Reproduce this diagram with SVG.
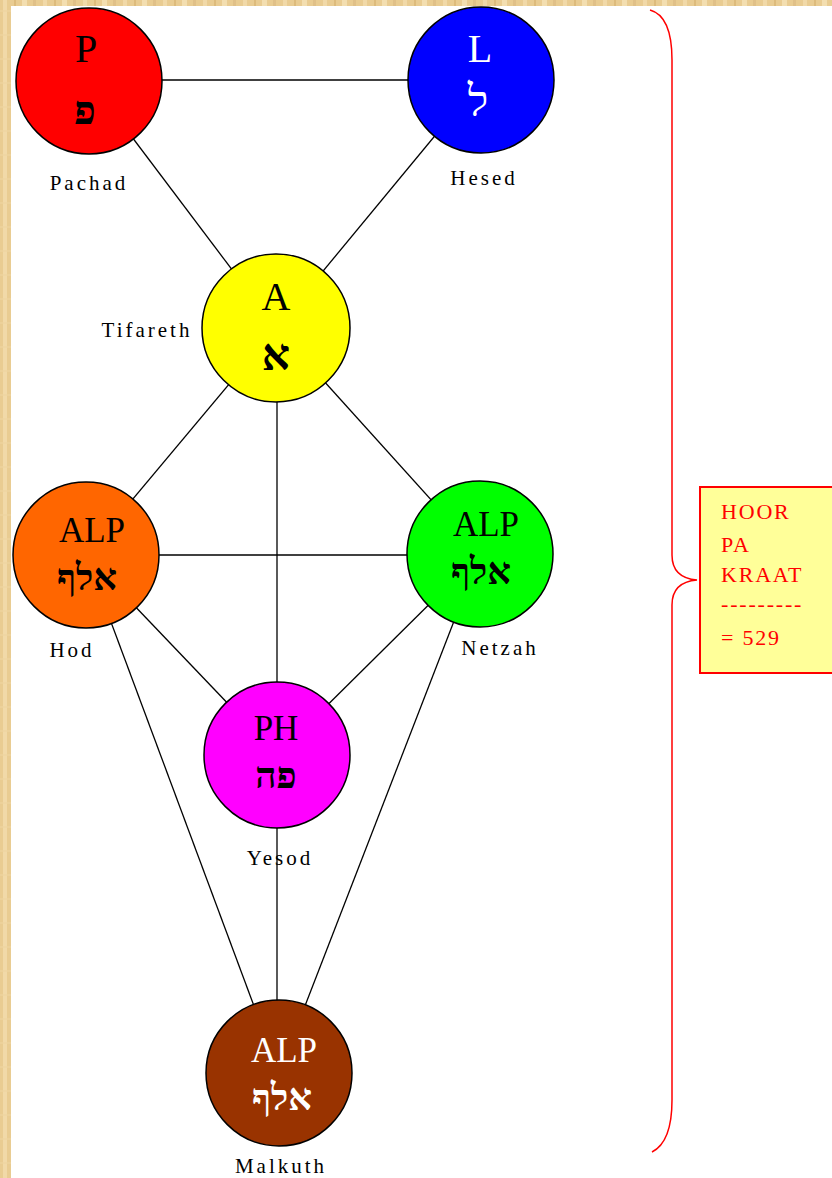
<svg xmlns="http://www.w3.org/2000/svg" width="832" height="1178" viewBox="0 0 832 1178">
<style>
.node{stroke:#000;stroke-width:1.5}
.lat{font-family:"Liberation Serif","Times New Roman",serif;text-anchor:middle}
.big{font-size:40px}
.mid{font-size:35px}
.heb{font-family:"Liberation Serif","DejaVu Serif","Noto Sans",serif;font-weight:bold;text-anchor:middle}
.lbl{font-family:"Liberation Serif","Times New Roman",serif;font-size:21px;letter-spacing:3px;fill:#000}
.conn line{stroke:#000;stroke-width:1.3}
.box{font-family:"Liberation Serif","Times New Roman",serif;font-size:22px;fill:#FF0000;letter-spacing:1.8px}
</style>
<defs>
<pattern id="parch" width="40" height="24" patternUnits="userSpaceOnUse">
<rect width="40" height="24" fill="#E9CC92"/>
<rect x="3" y="0" width="4" height="24" fill="#F1D9A8"/>
<rect x="14" y="0" width="2" height="24" fill="#DDBB7C"/>
<rect x="22" y="0" width="5" height="24" fill="#F3DEB0"/>
<rect x="33" y="0" width="3" height="24" fill="#E0C088"/>
<rect x="0" y="10" width="40" height="2" fill="#EED3A0" opacity="0.6"/>
</pattern>
</defs>
<rect x="0" y="0" width="832" height="1178" fill="url(#parch)"/>
<rect x="11" y="6" width="821" height="1172" fill="#FFFFFF"/>

<g id="connectors" class="conn">
<line x1="89" y1="80" x2="481" y2="80"/>
<line x1="89" y1="80" x2="276" y2="328"/>
<line x1="481" y1="80" x2="276" y2="328"/>
<line x1="276" y1="328" x2="86" y2="555"/>
<line x1="276" y1="328" x2="480" y2="554"/>
<line x1="277" y1="328" x2="277" y2="1073"/>
<line x1="86" y1="555" x2="480" y2="555"/>
<line x1="86" y1="555" x2="277" y2="755"/>
<line x1="480" y1="554" x2="277" y2="755"/>
<line x1="86" y1="555" x2="279" y2="1073"/>
<line x1="480" y1="554" x2="279" y2="1073"/>
</g>

<g id="pachad">
<circle class="node" cx="89" cy="81" r="73" fill="#FF0000"/>
<text class="lat big" x="86" y="62">P</text>
<text class="heb" x="85" y="124" font-size="40">פ</text>
<text class="lbl" x="89" y="190" text-anchor="middle">Pachad</text>
</g>

<g id="hesed">
<circle class="node" cx="481" cy="80" r="73" fill="#0000FF"/>
<text class="lat big" x="480" y="62" fill="#FFFFFF">L</text>
<text x="478" y="116" font-family="Liberation Serif, DejaVu Serif, serif" font-size="44" text-anchor="middle" fill="#FFFFFF">ל</text>
<text class="lbl" x="484" y="185" text-anchor="middle">Hesed</text>
</g>

<g id="tifareth">
<circle class="node" cx="276" cy="328" r="74" fill="#FFFF00"/>
<text class="lat big" x="276" y="310" font-size="42">A</text>
<text class="heb" x="276" y="370" font-size="44">א</text>
<text class="lbl" x="147" y="337" text-anchor="middle">Tifareth</text>
</g>

<g id="hod">
<circle class="node" cx="86" cy="555" r="73" fill="#FF6600"/>
<text class="lat mid" x="92" y="542">ALP</text>
<text class="heb" x="87" y="590" font-size="37">אלף</text>
<text class="lbl" x="72" y="657" text-anchor="middle">Hod</text>
</g>

<g id="netzah">
<circle class="node" cx="480" cy="554" r="73" fill="#00FF00"/>
<text class="lat mid" x="486" y="536">ALP</text>
<text class="heb" x="481" y="584" font-size="37">אלף</text>
<text class="lbl" x="500" y="655" text-anchor="middle">Netzah</text>
</g>

<g id="yesod">
<circle class="node" cx="277" cy="755" r="73" fill="#FF00FF"/>
<text class="lat mid" x="276" y="740">PH</text>
<text class="heb" x="276" y="788" font-size="37">פה</text>
<text class="lbl" x="280" y="865" text-anchor="middle">Yesod</text>
</g>

<g id="malkuth">
<circle class="node" cx="279" cy="1073" r="73" fill="#993300"/>
<text class="lat mid" x="284" y="1062" fill="#FFFFFF">ALP</text>
<text class="heb" x="282" y="1110" font-size="37" fill="#FFFFFF">אלף</text>
<text class="lbl" x="281" y="1173" text-anchor="middle">Malkuth</text>
</g>

<g id="brace">
<path d="M650,10 Q672,16 672,60 L672,555 Q672,578 697,580 Q672,582 672,605 L672,1100 Q672,1142 652,1152" fill="none" stroke="#FF0000" stroke-width="1.5"/>
</g>

<g id="sum-box">
<rect x="700" y="487" width="140" height="186" fill="#FFFF99" stroke="#FF0000" stroke-width="2"/>
<text class="box" x="721" y="519">HOOR</text>
<text class="box" x="721" y="552">PA</text>
<text class="box" x="721" y="582">KRAAT</text>
<text class="box" x="721" y="611">---------</text>
<text class="box" x="721" y="645">= 529</text>
</g>
</svg>
